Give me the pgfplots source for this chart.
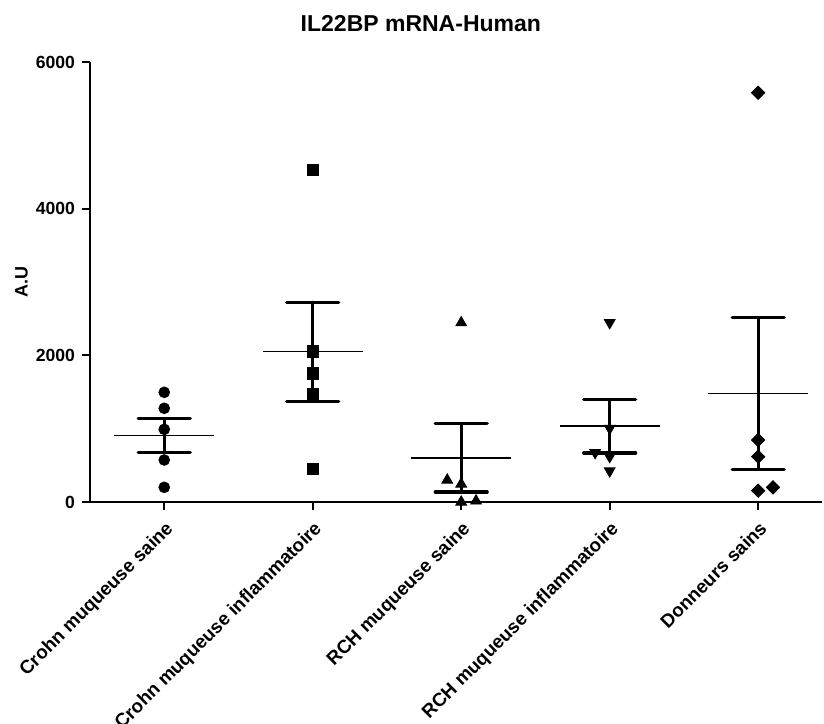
\documentclass[border=0pt]{standalone}
\usepackage{fontspec}
\setmainfont{Liberation Sans}
\usepackage{pgfplots}
\usepackage{pgfplotstable}
\pgfplotsset{compat=1.18}

% mean and SEM per group
\pgfplotstableread{
x mean sem
0 907.6 235
1 2051 675
2 601 465
3 1032.8 365
4 1479.8 1033
}\stats

\begin{document}
\begin{tikzpicture}
\begin{axis}[
  scale only axis, width=366pt, height=220pt,
  xmin=-0.5, xmax=4.43, ymin=0, ymax=6000,
  clip=false,
  axis lines=left, axis line style={-, line width=1pt},
  tick align=outside, major tick length=4pt,
  tick style={line width=1pt, black},
  ytick={0,2000,4000,6000}, minor tick num=0,
  xtick={0,1,2,3,4},
  xticklabels={Crohn muqueuse saine, Crohn muqueuse inflammatoire, RCH muqueuse saine, RCH muqueuse inflammatoire, Donneurs sains},
  xticklabel style={rotate=45, anchor=north east, font=\bfseries\fontsize{9.4}{10}\selectfont},
  yticklabel style={font=\bfseries\fontsize{8.8}{10}\selectfont},
  scaled y ticks=false,
  /pgf/number format/1000 sep={},
  /pgf/number format/assume math mode=true,
  title={IL22BP mRNA-Human},
  every axis title shift=0pt,
  title style={font=\bfseries\fontsize{11.5}{13}\selectfont, at={(axis description cs:0.452,1.069)}, anchor=base},
  ylabel={A.U},
  ylabel style={font=\bfseries\fontsize{9}{10}\selectfont, at={(axis description cs:-0.0936,0.5)}, anchor=center},
]
\coordinate (o) at (rel axis cs:0,0);
% Crohn muqueuse saine
\addplot[only marks, mark=*, mark size=2.7pt, black] coordinates {
  (0,1496) (0,1278) (0,991) (0,573) (0,200)};
% Crohn muqueuse inflammatoire
\addplot[only marks, mark=square*, mark size=2.9pt, black] coordinates {
  (1,4527) (1,2050) (1,1755) (1,1473) (1,450)};
% RCH muqueuse saine
\addplot[only marks, mark=triangle*, mark size=3.1pt, black] coordinates {
  (2,2445) (1.906,300) (2,245) (2,0) (2.10,15)};
% RCH muqueuse inflammatoire
\addplot[only marks, mark=triangle*, mark size=3.1pt, mark options={rotate=180}, black] coordinates {
  (3,2445) (3,1005) (2.902,673) (3,618) (3,423)};
% Donneurs sains
\addplot[only marks, mark=square*, mark size=2.35pt, mark options={rotate=45}, black] coordinates {
  (4,5581) (4,845) (4,618) (4,155) (4.10,200)};
% mean line with SEM bars
\addplot[only marks, mark=-, mark size=25pt, mark options={line width=0.8pt}, black,
  error bars/.cd, y dir=both, y explicit,
  error bar style={line width=1.4pt, line cap=round},
  error mark options={rotate=90, mark size=13pt, line width=1.6pt, line cap=round}]
  table[x=x, y=mean, y error=sem]{\stats};
\end{axis}
\pgfresetboundingbox
\path[use as bounding box] ([xshift=-45pt,yshift=-110.5pt]o) rectangle ([xshift=367pt,yshift=251pt]o);
\end{tikzpicture}
\end{document}
